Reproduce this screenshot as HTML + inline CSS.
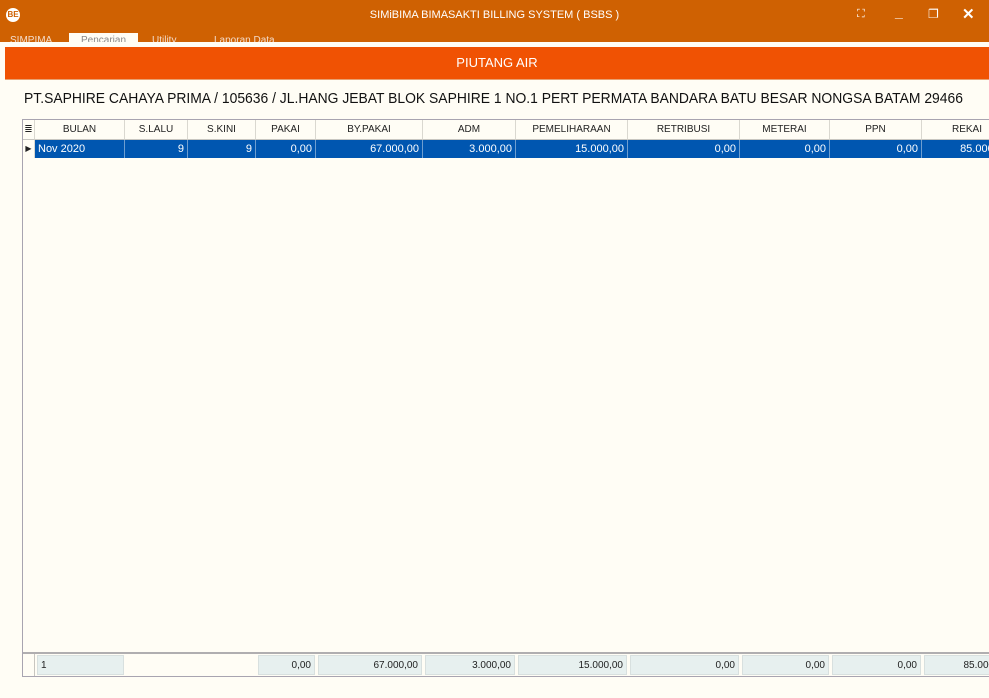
<!DOCTYPE html>
<html><head><meta charset="utf-8"><style>
body{margin:0;width:989px;height:698px;overflow:hidden;background:#fffdf5;font-family:"Liberation Sans",sans-serif;position:relative}
.abs{position:absolute}
#titlebar{left:0;top:0;width:989px;height:42px;background:#cf6102}
#tabs{left:0;top:33px;width:989px;height:9px;overflow:hidden}
.tab{position:absolute;top:0;height:12px;font-size:10px;color:#f3dccb;line-height:16px}
#banner{left:5px;top:47px;width:984px;height:32px;background:#f05203;color:#fff;font-size:13px;text-align:center;line-height:32px;border-bottom:1px solid #e8a070}
#cust{left:24px;top:90px;font-size:15px;color:#111;white-space:nowrap;transform-origin:0 0}
#grid{left:22px;top:119px;width:975px;height:556px;border:1px solid #a8a4b0;background:#fffdf5;overflow:hidden}
.cell{position:absolute;font-size:10px;box-sizing:border-box;white-space:nowrap;overflow:hidden}
.hd{height:20px;line-height:20px;text-align:center;color:#222;border-right:1px solid #dad8d0;border-bottom:1px solid #c8c6c0;background:#fffdf5}
.dr{top:20px;height:18px;line-height:18px;text-align:right;padding-right:3px;background:#0056b0;color:#fff;border-right:1px solid #6e9ed0;font-size:11px}
.ft{top:535px;height:20px;line-height:20px;text-align:right;padding-right:3px;background:#e7f0ef;color:#222;border:1px solid #d8e0df;font-size:10px}
</style></head><body>
<div id="titlebar" class="abs">
 <div class="abs" style="left:6px;top:8px;width:14px;height:14px;border-radius:50%;background:#fff;color:#cf6102;font-size:8px;text-align:center;line-height:14px;font-weight:bold">BE</div>
 <div class="abs" style="left:0;width:989px;top:9px;text-align:center;color:#fff;font-size:11px">SIMiBIMA BIMASAKTI BILLING SYSTEM ( BSBS )</div>
 <div class="abs" style="left:857px;top:8px;color:#fff;font-size:11px">⛶</div>
 <div class="abs" style="left:895px;top:4px;color:#fff;font-size:14px;font-weight:bold">_</div>
 <div class="abs" style="left:928px;top:7px;color:#fff;font-size:12px">❐</div>
 <div class="abs" style="left:962px;top:5px;color:#fff;font-size:15px;font-weight:bold">✕</div>
</div>
<div id="tabs" class="abs">
 <div class="tab" style="left:10px">SIMPIMA</div>
 <div class="tab" style="left:69px;width:69px;background:#fffdf5;color:#888;text-align:center">Pencarian</div>
 <div class="tab" style="left:152px">Utility</div>
 <div class="tab" style="left:214px">Laporan Data</div>
</div>
<div id="banner" class="abs">PIUTANG AIR</div>
<div id="cust" class="abs">PT.SAPHIRE CAHAYA PRIMA / 105636 / JL.HANG JEBAT BLOK SAPHIRE 1 NO.1 PERT PERMATA BANDARA BATU BESAR NONGSA BATAM 29466</div>
<div id="grid" class="abs"></div>
<script>
const cols=["BULAN","S.LALU","S.KINI","PAKAI","BY.PAKAI","ADM","PEMELIHARAAN","RETRIBUSI","METERAI","PPN","REKAI"];
const edges=[12,102,165,233,293,400,493,605,717,807,899,990];
const row=["Nov 2020","9","9","0,00","67.000,00","3.000,00","15.000,00","0,00","0,00","0,00","85.000,00"];
const foot=["1","","","0,00","67.000,00","3.000,00","15.000,00","0,00","0,00","0,00","85.000,00"];
const cu=document.getElementById('cust');
cu.style.transform='scaleX('+(939/cu.offsetWidth)+')';
const g=document.getElementById('grid');
function mk(cls,l,w,t){const d=document.createElement('div');d.className='cell '+cls;d.style.left=l+'px';d.style.width=w+'px';d.textContent=t;g.appendChild(d);return d;}
let h=mk('hd',0,12,'≣');


let ind=mk('hd',0,12,'▶');ind.style.top='20px';ind.style.height='18px';ind.style.lineHeight='18px';ind.style.borderBottom='none';ind.style.fontSize='8px';


cols.forEach((c,i)=>{
 const l=edges[i],w=edges[i+1]-edges[i];
 const hh=mk('hd',l,w,c);
 
 
 const d=mk('dr',l,w,row[i]);
 if(i==0){d.style.textAlign='left';d.style.paddingLeft='3px';}
 
 
 if(i==1||i==2) return;
 const f=mk('ft',l+2,w-3,foot[i]);
 if(i==0){f.style.textAlign='left';f.style.paddingLeft='3px';}
 
 
});
const sep=document.createElement('div');sep.className='cell';sep.style.cssText='left:0;top:532px;width:990px;height:2px;background:#b0aeb0';g.appendChild(sep);


const fi=document.createElement('div');fi.className='cell';fi.style.cssText='left:0;top:534px;width:12px;height:22px;border-right:1px solid #c8c6c0';g.appendChild(fi);


</script>
</body></html>
